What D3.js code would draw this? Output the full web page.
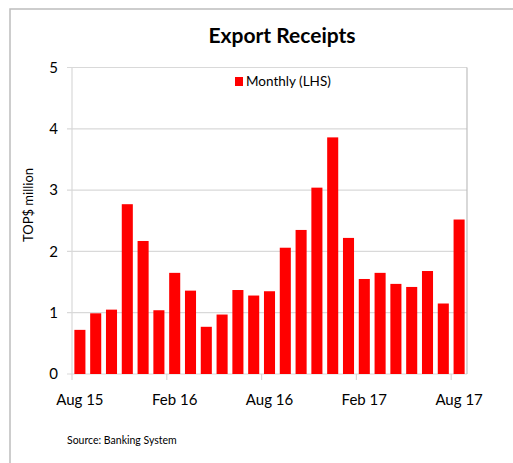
<!DOCTYPE html>
<html>
<head>
<meta charset="utf-8">
<script src="https://cdn.jsdelivr.net/npm/d3@7"></script>
<style>
  body { margin: 0; background: #fff; }
  text { font-family: Lato, "Open Sans", sans-serif; fill: #000; }
</style>
</head>
<body>
<div id="chart"></div>
<script>
// monthly export receipts, Aug 15 .. Aug 17
const months = ["Aug 15","Sep 15","Oct 15","Nov 15","Dec 15","Jan 16","Feb 16","Mar 16","Apr 16",
  "May 16","Jun 16","Jul 16","Aug 16","Sep 16","Oct 16","Nov 16","Dec 16","Jan 17","Feb 17",
  "Mar 17","Apr 17","May 17","Jun 17","Jul 17","Aug 17"];
const monthly = [0.72, 0.99, 1.05, 2.77, 2.17, 1.04, 1.65, 1.36, 0.77, 0.97, 1.37, 1.28, 1.35,
  2.06, 2.35, 3.04, 3.86, 2.22, 1.55, 1.65, 1.47, 1.42, 1.68, 1.15, 2.52];
const tickLabels = ["Aug 15", "Feb 16", "Aug 16", "Feb 17", "Aug 17"];
const yTicks = [0, 1, 2, 3, 4, 5];

const width = 513, height = 463;
const margin = { top: 67.5, right: 46, bottom: 89, left: 72 };

const svg = d3.select("#chart")
    .append("svg")
    .attr("width", width)
    .attr("height", height);

// outer frame
svg.append("rect")
    .attr("x", 10).attr("y", 9)
    .attr("width", 520).attr("height", 470)
    .attr("fill", "none")
    .attr("stroke", "#bdbdbd")
    .attr("stroke-width", 1.5);

const x = d3.scaleBand()
    .domain(months)
    .range([margin.left, width - margin.right])
    .paddingInner(0.3)
    .paddingOuter(0.15);

const y = d3.scaleLinear()
    .domain([0, 5])
    .range([height - margin.bottom, margin.top]);

// gridlines
svg.append("g")
    .selectAll("line")
    .data(yTicks)
    .enter().append("line")
    .attr("x1", margin.left - 5)
    .attr("x2", width - margin.right)
    .attr("y1", d => y(d))
    .attr("y2", d => y(d))
    .attr("stroke", "#d9d9d9")
    .attr("stroke-width", 1.2);

// plot border right + left axis line
svg.append("line")
    .attr("x1", width - margin.right).attr("x2", width - margin.right)
    .attr("y1", y(5)).attr("y2", y(0))
    .attr("stroke", "#bfbfbf").attr("stroke-width", 1.2);
svg.append("line")
    .attr("x1", margin.left).attr("x2", margin.left)
    .attr("y1", y(5)).attr("y2", y(0))
    .attr("stroke", "#d9d9d9").attr("stroke-width", 1.2);

// bars
svg.append("g")
    .selectAll("rect")
    .data(monthly)
    .enter().append("rect")
    .attr("x", (d, i) => x(months[i]))
    .attr("y", d => y(d))
    .attr("width", x.bandwidth())
    .attr("height", d => y(0) - y(d))
    .attr("fill", "#ff0000");

// y tick labels
svg.append("g")
    .selectAll("text")
    .data(yTicks)
    .enter().append("text")
    .attr("x", 58)
    .attr("y", d => y(d))
    .attr("dy", "0.35em")
    .attr("text-anchor", "end")
    .attr("font-size", 15)
    .text(d => d);

// x axis ticks (at category boundaries) and labels
const step = x.step();
const x0 = margin.left;
svg.append("g")
    .selectAll("line")
    .data(tickLabels)
    .enter().append("line")
    .attr("x1", d => x0 + months.indexOf(d) * step)
    .attr("x2", d => x0 + months.indexOf(d) * step)
    .attr("y1", y(0))
    .attr("y2", y(0) + 6)
    .attr("stroke", "#d9d9d9")
    .attr("stroke-width", 1.2);

svg.append("g")
    .selectAll("text")
    .data(tickLabels)
    .enter().append("text")
    .attr("x", d => x(d) + x.bandwidth() / 2)
    .attr("y", 405)
    .attr("text-anchor", "middle")
    .attr("font-size", 15)
    .text(d => d);

// title
svg.append("text")
    .attr("x", 282)
    .attr("y", 43)
    .attr("text-anchor", "middle")
    .attr("font-size", 21)
    .attr("font-weight", "bold")
    .text("Export Receipts");

// y axis title
svg.append("text")
    .attr("transform", "translate(33,205) rotate(-90)")
    .attr("text-anchor", "middle")
    .attr("font-family", "'Open Sans', sans-serif")
    .attr("font-size", 13)
    .text("TOP$ million");

// legend
svg.append("rect")
    .attr("x", 235).attr("y", 77)
    .attr("width", 8).attr("height", 9)
    .attr("fill", "#ff0000");
svg.append("text")
    .attr("x", 246)
    .attr("y", 86)
    .attr("font-size", 13.5)
    .text("Monthly (LHS)");

// source note
svg.append("text")
    .attr("x", 67)
    .attr("y", 444)
    .attr("font-size", 10.5)
    .text("Source: Banking System");
</script>
</body>
</html>
